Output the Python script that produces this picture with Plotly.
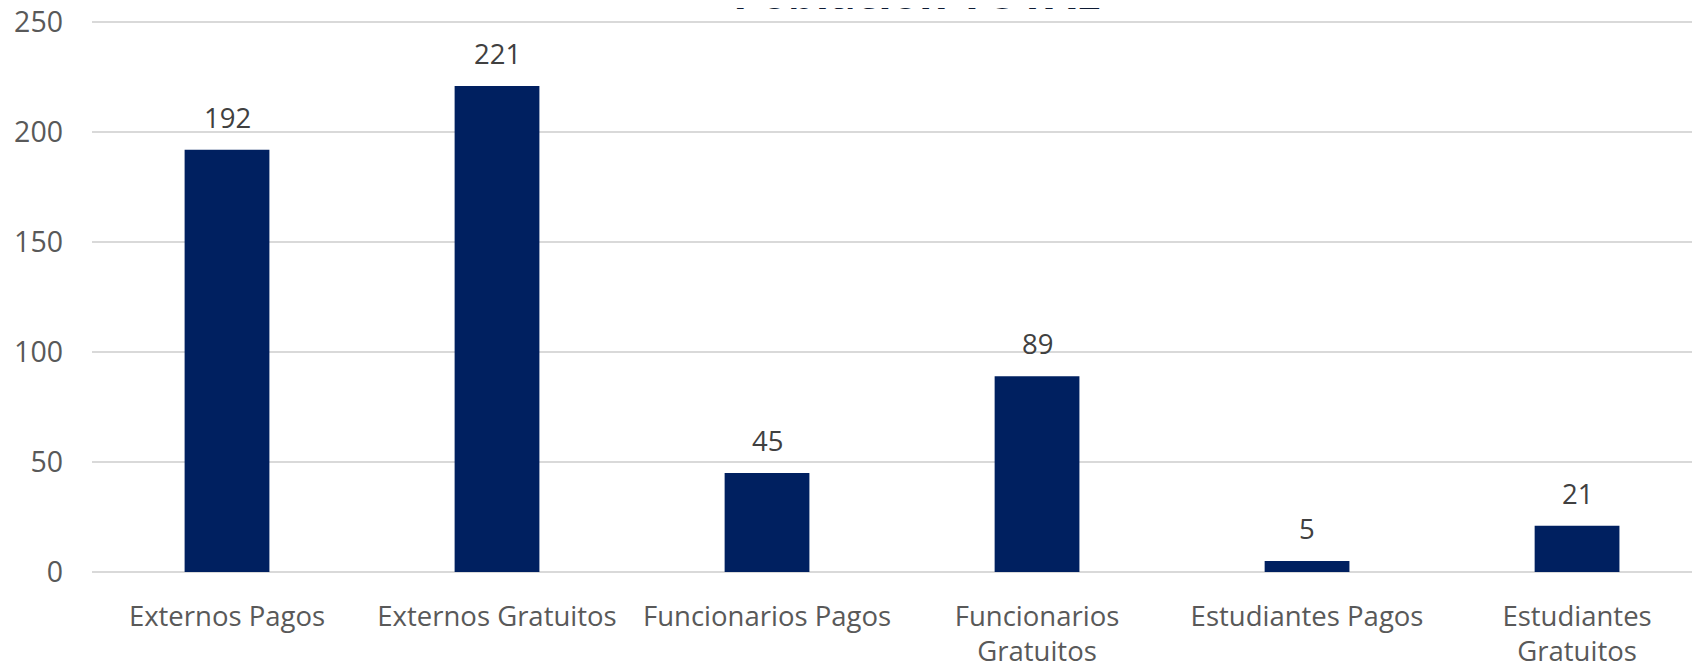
import plotly.graph_objects as go

categories = ["Externos Pagos", "Externos Gratuitos", "Funcionarios Pagos",
              "Funcionarios<br>Gratuitos", "Estudiantes Pagos", "Estudiantes<br>Gratuitos"]
values = [192, 221, 45, 89, 5, 21]
title_text = "Población TOTAL"

NAVY = '#002060'
GRID = '#d9d9d9'
TICK = '#595959'
LABEL = '#404040'

x_pos = list(range(len(categories)))

fig = go.Figure(go.Bar(
    x=x_pos, y=values, width=0.314,
    marker=dict(color=NAVY, line=dict(width=0)),
    hoverinfo='skip',
))

# value labels above bars
for xi, v in zip(x_pos, values):
    fig.add_annotation(x=xi, y=v, text=str(v), showarrow=False,
                       yanchor='bottom', yshift=12,
                       font=dict(family='Open Sans', size=27.5, color=LABEL))

# title, mostly cut off by the top edge in the source
fig.add_annotation(x=0.5105, y=0.9928, xref='paper', yref='paper', text=f"<b>{title_text}</b>",
                   showarrow=False, xanchor='center', yanchor='bottom',
                   font=dict(family='Open Sans', size=44, color='#0d1a33'))

# page body has an 8px margin, so margins are shifted to compensate
fig.update_layout(
    width=1700, height=665,
    margin=dict(l=84, r=0, t=12, b=101),
    paper_bgcolor='white', plot_bgcolor='white',
    showlegend=False,
    font=dict(family='Open Sans', color=TICK),
)
fig.update_xaxes(
    range=[-0.5, 5.485], tickvals=x_pos, ticktext=categories,
    showgrid=False, zeroline=False, showline=False, ticks='',
    tickfont=dict(size=27.5, color=TICK), ticklabelstandoff=25,
    ticklabeloverflow='allow', automargin=False,
)
# range runs a touch past 250 so the top gridline is still drawn
fig.update_yaxes(
    range=[0, 251], tickvals=[0, 50, 100, 150, 200, 250],
    showgrid=True, gridcolor=GRID, gridwidth=1.5,
    zeroline=True, zerolinecolor=GRID, zerolinewidth=1.5, showline=False, ticks='',
    tickfont=dict(size=28.5, color=TICK), ticklabelstandoff=28,
    ticklabeloverflow='allow', automargin=False,
)

fig.write_html("out.html")
